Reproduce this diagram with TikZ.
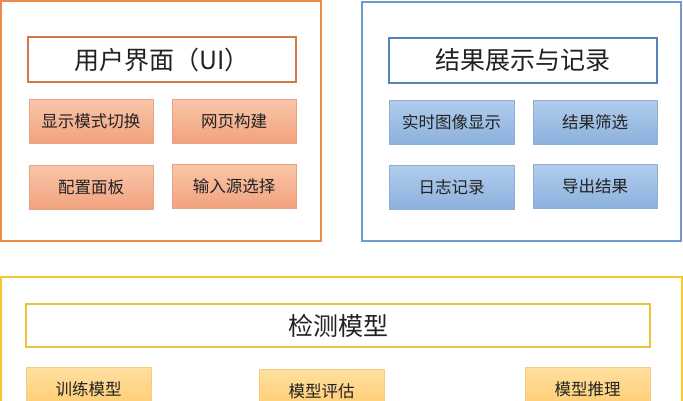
\documentclass[tikz,border=0pt]{standalone}
\usepackage{fontspec}
\newfontfamily\cjk{Noto Sans CJK SC}
\definecolor{orgline}{HTML}{EC8A4A}
\definecolor{orgtitle}{HTML}{D07A45}
\definecolor{orgtop}{HTML}{F9C6AA}
\definecolor{orgbot}{HTML}{F2A27E}
\definecolor{orgedge}{HTML}{E9A384}
\definecolor{bluline}{HTML}{6D9BCB}
\definecolor{blutitle}{HTML}{5683B8}
\definecolor{blutop}{HTML}{B0CDEC}
\definecolor{blubot}{HTML}{8CB0DD}
\definecolor{bluedge}{HTML}{8EAFD6}
\definecolor{yelline}{HTML}{F6C830}
\definecolor{yeltitle}{HTML}{E9C23E}
\definecolor{yeltop}{HTML}{FFDFA0}
\definecolor{yelbot}{HTML}{FFCB6C}
\definecolor{yeledge}{HTML}{F5CD80}
\definecolor{txt}{HTML}{222222}
\tikzset{
  boxbase/.style={rectangle, inner sep=0pt, text=txt},
  titlebox/.style={boxbase, fill=white, line width=1.4pt, font=\cjk\fontsize{25}{29}\selectfont},
  subbox/.style={boxbase, line width=0.6pt, font=\cjk\fontsize{16.5}{20}\selectfont},
  titleO/.style={titlebox, draw=orgtitle},
  titleB/.style={titlebox, draw=blutitle},
  titleY/.style={titlebox, draw=yeltitle},
  subO/.style={subbox, draw=orgedge, top color=orgtop, bottom color=orgbot},
  subB/.style={subbox, draw=bluedge, top color=blutop, bottom color=blubot},
  subY/.style={subbox, draw=yeledge, top color=yeltop, bottom color=yelbot},
  groupframe/.style={line width=2pt, fill=white},
}
\begin{document}
\begin{tikzpicture}[x=1pt, y=-1pt]
\useasboundingbox (0,0) rectangle (683,400);
\clip (0,0) rectangle (683,400);
\fill[white] (0,0) rectangle (683,400);
% group frames
\draw[groupframe, draw=orgline] (1,1) rectangle (321,241);
\draw[groupframe, draw=bluline] (362,2) rectangle (681,241);
\draw[groupframe, draw=yelline] (1,277) rectangle (682,440);
% UI group
\node[titleO, minimum width=268pt, minimum height=45pt] (ui) at (162,59.5) {用户界面（UI）};
\node[subO, minimum width=124pt, minimum height=44pt] (mode) at (91,121) {显示模式切换};
\node[subO, minimum width=124pt, minimum height=44pt] (web) at (234,121) {网页构建};
\node[subO, minimum width=124pt, minimum height=44pt] (cfg) at (91,187) {配置面板};
\node[subO, minimum width=124pt, minimum height=44pt] (src) at (234,186) {输入源选择};
% Result group
\node[titleB, minimum width=268pt, minimum height=45pt] (res) at (523,60.5) {结果展示与记录};
\node[subB, minimum width=125pt, minimum height=44pt] (rt) at (451.5,122) {实时图像显示};
\node[subB, minimum width=124pt, minimum height=44pt] (flt) at (595,122) {结果筛选};
\node[subB, minimum width=125pt, minimum height=44pt] (log) at (451.5,187.5) {日志记录};
\node[subB, minimum width=124pt, minimum height=44pt] (exp) at (595,186.5) {导出结果};
% Detection group
\node[titleY, minimum width=624pt, minimum height=43pt] (det) at (338,325.5) {检测模型};
\node[subY, minimum width=125pt, minimum height=44pt] (train) at (88.5,389) {训练模型};
\node[subY, minimum width=125pt, minimum height=44pt] (eval) at (321.5,391) {模型评估};
\node[subY, minimum width=125pt, minimum height=44pt] (infer) at (587.5,389) {模型推理};
\end{tikzpicture}
\end{document}
